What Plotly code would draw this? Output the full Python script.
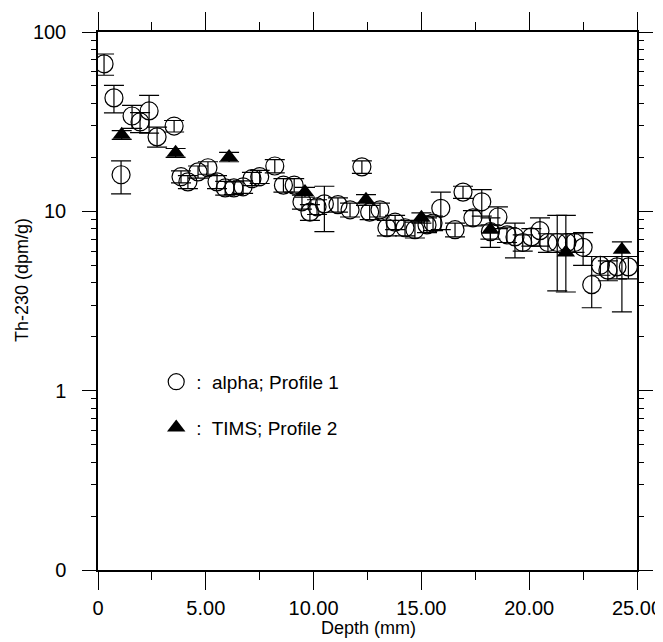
import plotly.graph_objects as go

# ---- data ----
alpha_depth = [0.28, 0.74, 1.07, 1.58, 1.95, 2.37, 2.74, 3.53, 3.85, 4.17, 4.64, 5.10,
               5.52, 5.90, 6.30, 6.73, 7.14, 7.50, 8.20, 8.60, 9.10, 9.46, 9.83, 10.16,
               10.50, 11.13, 11.69, 12.24, 12.60, 13.08, 13.40, 13.78, 14.24, 14.70, 15.26,
               15.54, 15.90, 16.56, 16.93, 17.39, 17.80, 18.20, 18.55, 18.97, 19.34, 19.70,
               20.10, 20.50, 20.87, 21.30, 21.75, 22.10, 22.50, 22.90, 23.30, 23.65, 24.07, 24.60]
alpha_th = [66.4, 42.9, 16.0, 34.0, 31.5, 36.3, 26.0, 29.9, 15.6, 14.6, 16.6, 17.5,
            14.6, 13.5, 13.5, 13.7, 15.2, 15.6, 17.9, 14.0, 14.0, 11.3, 9.9, 10.6,
            11.0, 10.9, 10.2, 17.7, 9.9, 10.2, 8.1, 8.7, 8.1, 7.9, 8.4,
            8.6, 10.4, 7.9, 12.8, 9.2, 11.3, 7.7, 9.3, 7.4, 7.2, 6.7,
            7.2, 7.8, 6.7, 6.7, 6.7, 6.7, 6.3, 3.9, 5.0, 4.7, 4.9, 4.9]
alpha_err_hi = [9.0, 7.5, 3.1, 5.0, 4.0, 8.0, 3.5, 2.2, 1.2, 1.2, 1.3, 1.4,
                1.2, 1.2, 1.1, 1.1, 1.3, 1.3, 1.5, 1.2, 1.2, 1.0, 1.0, 1.0,
                2.8, 1.0, 0.9, 1.4, 0.9, 0.9, 0.8, 0.8, 0.8, 0.8, 0.8,
                0.8, 2.4, 0.7, 1.0, 0.9, 1.9, 0.7, 1.3, 0.7, 1.4, 0.7,
                0.8, 1.4, 0.8, 2.8, 0.8, 0.8, 1.3, 1.7, 0.6, 0.6, 0.7, 0.7]
alpha_err_lo = [9.0, 7.5, 3.5, 5.0, 4.0, 9.0, 3.2, 2.2, 1.2, 1.2, 1.3, 1.4,
                1.2, 1.2, 1.1, 1.1, 1.3, 1.3, 1.5, 1.2, 1.2, 1.0, 1.0, 1.0,
                3.3, 1.0, 0.9, 1.4, 0.9, 0.9, 0.8, 0.8, 0.8, 0.8, 0.8,
                0.8, 2.5, 0.7, 1.0, 0.9, 1.9, 0.7, 1.3, 0.7, 1.7, 0.7,
                0.8, 1.4, 0.8, 3.1, 0.8, 0.8, 1.3, 1.0, 0.6, 0.6, 0.7, 0.7]

tims_depth = [1.10, 3.60, 6.08, 9.60, 12.43, 15.00, 18.20, 21.70, 24.30]
tims_th = [26.7, 21.2, 20.1, 12.8, 11.6, 9.2, 7.9, 5.9, 6.1]
tims_err_hi = [1.5, 1.2, 1.2, 0.8, 0.8, 0.6, 1.3, 3.6, 0.65]
tims_err_lo = [1.5, 1.2, 1.2, 0.8, 0.8, 0.6, 1.6, 2.35, 3.35]

x_minor_ticks = [2.5, 7.5, 12.5, 17.5, 22.5]
y_minor_ticks = [k * 10 ** e for e in (-1, 0, 1) for k in range(2, 10)]

FONT = "Liberation Sans, Arial, Helvetica, sans-serif"

fig = go.Figure()
fig.add_trace(go.Scatter(
    x=alpha_depth, y=alpha_th, mode="markers",
    name=":  alpha; Profile 1", legendgroup="a",
    marker=dict(symbol="circle-open", size=18, color="black", line=dict(width=1.2, color="black")),
    error_y=dict(type="data", array=alpha_err_hi, arrayminus=alpha_err_lo,
                 color="black", thickness=1.2, width=10),
))
fig.add_trace(go.Scatter(
    x=tims_depth, y=tims_th, mode="markers",
    name=":  TIMS; Profile 2", legendgroup="b",
    marker=dict(symbol="triangle-up", size=16, color="black"),
    error_y=dict(type="data", array=tims_err_hi, arrayminus=tims_err_lo,
                 color="black", thickness=1.2, width=10),
))
# invisible trace carrying the overlay axes used for minor ticks
fig.add_trace(go.Scatter(
    x=tims_depth, y=tims_th, mode="markers", xaxis="x2", yaxis="y2",
    marker=dict(opacity=0), showlegend=False, hoverinfo="skip",
))

fig.update_layout(
    width=655, height=634,
    margin=dict(l=90, r=26, t=24, b=72),
    paper_bgcolor="white", plot_bgcolor="white",
    font=dict(family=FONT, size=18, color="black"),
    showlegend=True,
    legend=dict(x=0.108, y=0.385, xanchor="left", yanchor="top",
                bgcolor="rgba(0,0,0,0)", font=dict(size=19, family=FONT),
                tracegroupgap=18, traceorder="grouped", itemsizing="trace"),
    xaxis=dict(range=[0, 25], tickmode="linear", tick0=0, dtick=5, tickformat=".2f",
               labelalias={"0.00": "0"},
               automargin=False,
               showline=True, linecolor="black", linewidth=1.5, mirror="ticks",
               ticks="outside", ticklen=18, tickwidth=1.3, tickcolor="black",
               ticklabelstandoff=1,
               showgrid=False, zeroline=False,
               tickfont=dict(size=20, family=FONT)),
    yaxis=dict(type="log", range=[-1, 2], tickmode="linear", tick0=0, dtick=1,
               labelalias={"0.1": "0"},
               automargin=False,
               showline=True, linecolor="black", linewidth=1.5, mirror="ticks",
               ticks="outside", ticklen=14, tickwidth=1.3, tickcolor="black",
               ticklabelstandoff=12,
               showgrid=False, zeroline=False,
               tickfont=dict(size=20, family=FONT)),
    xaxis2=dict(overlaying="x", range=[0, 25], tickmode="array", tickvals=x_minor_ticks,
                showticklabels=False, automargin=False, anchor="y2", side="bottom",
                showline=False, mirror="ticks", ticks="outside", ticklen=9,
                tickwidth=1.2, tickcolor="black", showgrid=False, zeroline=False),
    yaxis2=dict(overlaying="y", type="log", range=[-1, 2], tickmode="array",
                tickvals=y_minor_ticks, showticklabels=False, automargin=False,
                anchor="x2", side="left",
                showline=False, mirror="ticks", ticks="outside", ticklen=6,
                tickwidth=1.2, tickcolor="black", showgrid=False, zeroline=False),
    annotations=[
        dict(text="Depth (mm)", x=0.501, y=-0.108, xref="paper", yref="paper",
             showarrow=False, font=dict(size=18, family=FONT),
             xanchor="center", yanchor="middle"),
        dict(text="Th-230 (dpm/g)", x=-0.141, y=0.539, xref="paper", yref="paper",
             showarrow=False, textangle=-90, font=dict(size=18, family=FONT),
             xanchor="center", yanchor="middle"),
    ],
)

fig.write_html("out.html")
